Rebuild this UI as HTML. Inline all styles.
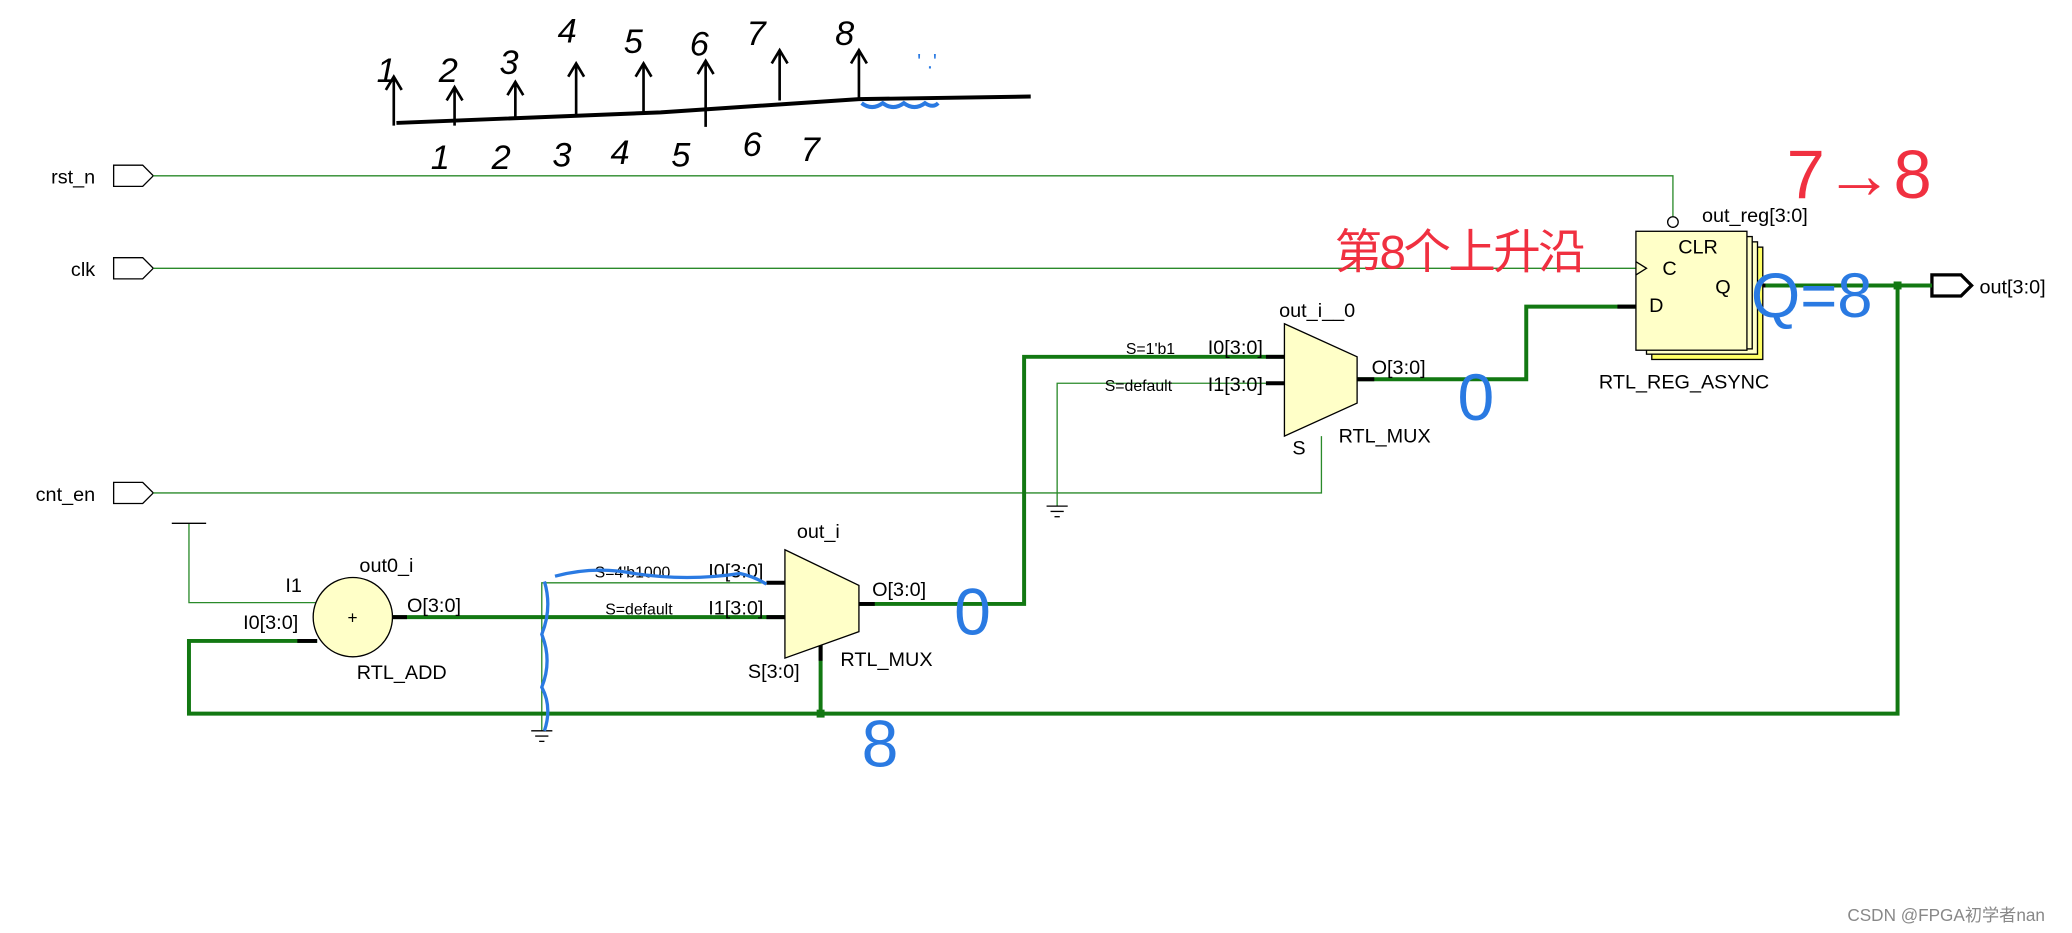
<!DOCTYPE html>
<html><head><meta charset="utf-8"><style>
html,body{margin:0;padding:0;background:#fff;}
svg{display:block}
text{font-family:"Liberation Sans","Noto Sans CJK SC",sans-serif;fill:#000;}
</style></head><body>
<svg width="2072" height="933" viewBox="0 0 1568 706" xmlns="http://www.w3.org/2000/svg">
<rect width="1568" height="706" fill="#fff"/>
<g fill="#fff" stroke="#000" stroke-width="1">
<polygon points="86,125 108,125 116,133 108,141 86,141"/>
<polygon points="86,195 108,195 116,203 108,211 86,211"/>
<polygon points="86,365 108,365 116,373 108,381 86,381"/>
</g>
<polygon points="1462,208 1484,208 1492,216 1484,224 1462,224" fill="#fff" stroke="#000" stroke-width="2.5"/>
<g font-size="15" text-anchor="end">
<text x="72" y="139">rst_n</text><text x="72" y="209">clk</text><text x="72" y="379">cnt_en</text>
</g>
<text x="1498" y="222" font-size="15">out[3:0]</text>
<g fill="none" stroke="#2a8a2a" stroke-width="1">
<polyline points="116,133 1266,133 1266,164"/>
<polyline points="116,203 1240,203"/>
<polyline points="116,373 1000,373 1000,330"/>
<polyline points="972,290 800,290 800,383"/>
<polyline points="594,441 410,441 410,553"/>
<polyline points="143,396 143,456 240,456"/>
</g>
<line x1="130" y1="396" x2="156" y2="396" stroke="#000"/>
<g stroke="#000" stroke-width="1">
<line x1="792" y1="383" x2="808" y2="383"/><line x1="795" y1="387" x2="805" y2="387"/><line x1="798" y1="391" x2="802" y2="391"/>
<line x1="402" y1="553" x2="418" y2="553"/><line x1="405" y1="557" x2="415" y2="557"/><line x1="408" y1="561" x2="412" y2="561"/>
</g>
<g fill="none" stroke="#127812" stroke-width="3">
<polyline points="1322,216 1462,216"/>
<polyline points="1436,216 1436,540 143,540 143,485 240,485"/>
<polyline points="621,540 621,488"/>
<polyline points="297,467 594,467"/>
<polyline points="650,457 775,457 775,270 972,270"/>
<polyline points="1027,287 1155,287 1155,232 1238,232"/>
</g>
<rect x="1433" y="213" width="6" height="6" fill="#127812"/>
<rect x="618" y="537" width="6" height="6" fill="#127812"/>
<g stroke="#000" stroke-width="3">
<line x1="1322" y1="216" x2="1336" y2="216"/><line x1="1224" y1="232" x2="1238" y2="232"/>
<line x1="1027" y1="287" x2="1040" y2="287"/><line x1="958" y1="270" x2="972" y2="270"/><line x1="958" y1="290" x2="972" y2="290"/>
<line x1="650" y1="457" x2="662" y2="457"/><line x1="580" y1="441" x2="594" y2="441"/><line x1="580" y1="467" x2="594" y2="467"/>
<line x1="621" y1="488" x2="621" y2="500"/><line x1="297" y1="467" x2="308" y2="467"/><line x1="225" y1="485" x2="240" y2="485"/>
</g>
<g stroke="#000" stroke-width="1">
<rect x="1250" y="187" width="84" height="85" fill="#ffff66"/>
<rect x="1246" y="183" width="84" height="85" fill="#ffffc8"/>
<rect x="1242" y="179" width="84" height="85" fill="#ffffc8"/>
<rect x="1238" y="175" width="84" height="90" fill="#ffffc8"/>
<circle cx="1266" cy="168" r="4" fill="#fff"/>
<polyline points="1238,198 1246,203 1238,208" fill="none"/>
</g>
<g font-size="15">
<text x="1270" y="192">CLR</text><text x="1258" y="208">C</text><text x="1298" y="222">Q</text><text x="1248" y="236">D</text>
<text x="1288" y="168">out_reg[3:0]</text><text x="1210" y="294">RTL_REG_ASYNC</text>
</g>
<polygon points="972,245 1027,270 1027,305 972,330" fill="#ffffc8" stroke="#000"/>
<g font-size="15"><text x="968" y="240">out_i__0</text><text x="914" y="268">I0[3:0]</text><text x="914" y="296">I1[3:0]</text>
<text x="1038" y="283">O[3:0]</text><text x="978" y="344">S</text><text x="1013" y="335">RTL_MUX</text></g>
<g font-size="12"><text x="852" y="268">S=1'b1</text><text x="836" y="296">S=default</text></g>
<polygon points="594,416 650,443 650,478 594,498" fill="#ffffc8" stroke="#000"/>
<g font-size="15"><text x="603" y="407">out_i</text><text x="536" y="437">I0[3:0]</text><text x="536" y="465">I1[3:0]</text>
<text x="660" y="451">O[3:0]</text><text x="566" y="513">S[3:0]</text><text x="636" y="504">RTL_MUX</text></g>
<g font-size="12"><text x="450" y="437">S=4'b1000</text><text x="458" y="465">S=default</text></g>
<circle cx="267" cy="467" r="30" fill="#ffffc8" stroke="#000"/>
<text x="263" y="472" font-size="13">+</text>
<g font-size="15"><text x="272" y="433">out0_i</text><text x="216" y="448">I1</text><text x="184" y="476">I0[3:0]</text>
<text x="308" y="463">O[3:0]</text><text x="270" y="514">RTL_ADD</text></g>
<polyline points="300,93 500,85 650,75 780,73" fill="none" stroke="#000" stroke-width="3"/>
<g stroke="#000" stroke-width="2" fill="none">
<path d="M298,95 L298,60 M292,68 L298,58 L304,68"/><path d="M344,95 L344,68 M338,76 L344,66 L350,76"/>
<path d="M390,90 L390,64 M384,72 L390,62 L396,72"/><path d="M436,88 L436,50 M430,58 L436,48 L442,58"/>
<path d="M487,86 L487,50 M481,58 L487,48 L493,58"/><path d="M534,96 L534,48 M528,56 L534,46 L540,56"/>
<path d="M590,76 L590,40 M584,48 L590,38 L596,48"/><path d="M650,76 L650,40 M644,48 L650,38 L656,48"/>
</g>
<g font-size="26" font-style="italic">
<text x="285" y="62">1</text><text x="332" y="62">2</text><text x="378" y="56">3</text><text x="422" y="32">4</text>
<text x="472" y="40">5</text><text x="522" y="42">6</text><text x="565" y="34">7</text><text x="632" y="34">8</text>
<text x="326" y="128">1</text><text x="372" y="128">2</text><text x="418" y="126">3</text><text x="462" y="124">4</text>
<text x="508" y="126">5</text><text x="562" y="118">6</text><text x="606" y="122">7</text>
</g>
<path d="M652,78 q8,6 16,0 q8,6 16,0 q8,6 16,0 q6,4 10,0" fill="none" stroke="#2a7ae2" stroke-width="3"/>
<text x="694" y="52" font-size="16" style="fill:#2a7ae2">' .'</text>
<text x="1010" y="203" font-size="36" letter-spacing="-2" style="fill:#f03040" font-family="Noto Sans CJK SC, sans-serif">第8个上升沿</text>
<text x="1352" y="150" font-size="52" style="fill:#f03040">7→8</text>
<text x="1325" y="240" font-size="48" style="fill:#2a7ae2">Q=8</text>
<text x="1103" y="318" font-size="50" style="fill:#2a7ae2">0</text>
<text x="722" y="480" font-size="50" style="fill:#2a7ae2">0</text>
<text x="652" y="580" font-size="50" style="fill:#2a7ae2">8</text>
<path d="M412,440 q6,20 -2,40 q8,20 0,40 q8,15 2,33 M420,436 q30,-8 60,-2 q40,6 80,0 q10,2 20,8" fill="none" stroke="#2a7ae2" stroke-width="2.5"/>
<text x="1398" y="697" font-size="13" style="fill:#888">CSDN @FPGA初学者nan</text>
</svg>
</body></html>
